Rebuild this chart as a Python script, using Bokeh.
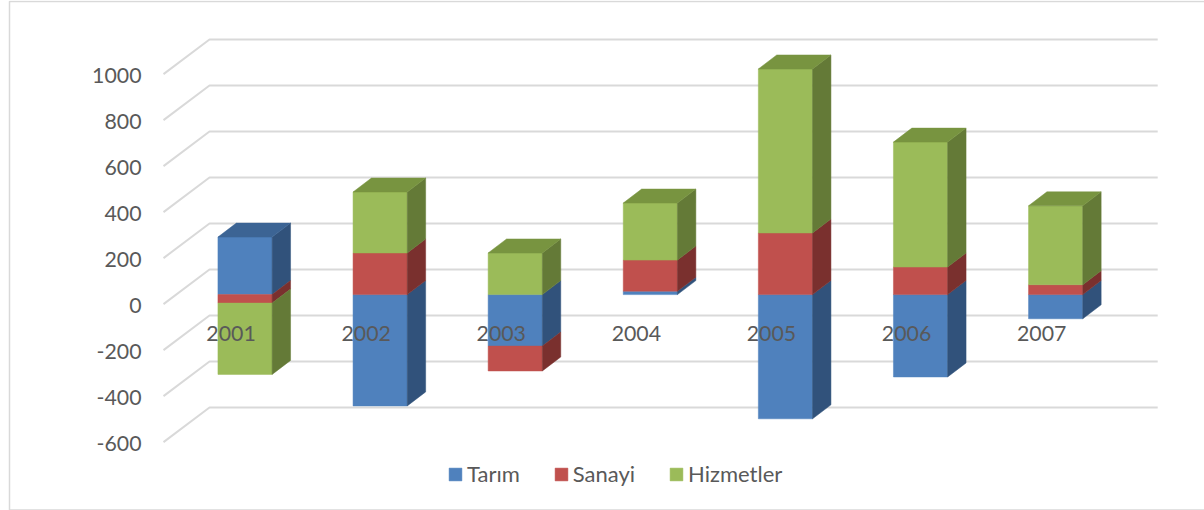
from bokeh.plotting import figure
from bokeh.embed import file_html
from bokeh.resources import INLINE
from bokeh.models import (LinearAxis, FixedTicker, Legend, LegendItem, BoxAnnotation,
                          ColumnDataSource, Range1d)

years = ["2001", "2002", "2003", "2004", "2005", "2006", "2007"]
tarim = [250, -484, -224, 15, -540, -358, -105]
sanayi = [-37, 181, -108, 135, 268, 120, 43]
hizmetler = [-310, 265, 181, 248, 713, 543, 343]
y_ticks = [-600, -400, -200, 0, 200, 400, 600, 800, 1000]

series = [
    ("Tarım", tarim, "#4f81bd", "#31527b", "#3c6494"),
    ("Sanayi", sanayi, "#c0504d", "#7a302e", "#94403d"),
    ("Hizmetler", hizmetler, "#9bbb59", "#647a37", "#789440"),
]

W, H = 1204, 510
PX_CAT = 135.1            # pixels per category
PX_VAL = 0.23             # pixels per value unit
X0_PX = 163               # front plane left edge
Y0_PX = 303.6             # front plane zero line


def dx(px):
    return px / PX_CAT


def dy(px):
    return px / PX_VAL


p = figure(width=W, height=H, output_backend="svg", toolbar_location=None,
           x_axis_location=None, y_axis_location=None, min_border=0,
           x_range=Range1d(-X0_PX / PX_CAT, (W - X0_PX) / PX_CAT),
           y_range=Range1d((Y0_PX - H) / PX_VAL, Y0_PX / PX_VAL),
           background_fill_color="white", border_fill_color="white",
           outline_line_color=None)
p.grid.visible = False
# value labels sit slightly below their grid lines in the reference
p.extra_y_ranges = {"labels": Range1d((Y0_PX + 1.8 - H) / PX_VAL, (Y0_PX + 1.8) / PX_VAL)}

# chart frame
p.add_layout(BoxAnnotation(left=9, right=1300, top=0.5, bottom=509, top_units="screen",
                           bottom_units="screen", left_units="screen", right_units="screen",
                           fill_alpha=0, line_color="#d9d9d9", line_alpha=1, line_width=1.5,
                           level="underlay"))

# wall grid lines
n = len(years)
wall_dx, wall_dy = dx(46), dy(34.6)
gx, gy = [], []
for t in y_ticks:
    gx.append([0, wall_dx, n + dx(2.5) + wall_dx])
    gy.append([t, t + wall_dy, t + wall_dy])
p.multi_line(gx, gy, line_color="#d9d9d9", line_width=2)

# bars
bar_w = dx(54.2)
off_x, off_y = dx(14), dy(9.5)
side_x, side_y = dx(18.4), dy(14)

pos = [0.0] * n
neg = [0.0] * n
legend_items = []
for name, values, col, side_col, top_col in series:
    left, right, bottom, top, sx, sy = [], [], [], [], [], []
    for i, v in enumerate(values):
        if v >= 0:
            a, b = pos[i], pos[i] + v
            pos[i] = b
        else:
            a, b = neg[i] + v, neg[i]
            neg[i] = a
        l = i + 0.5 - bar_w / 2 + off_x
        r = l + bar_w
        ya, yb = a + off_y, b + off_y
        left.append(l); right.append(r); bottom.append(ya); top.append(yb)
        sx.append([r, r + side_x, r + side_x, r])
        sy.append([ya, ya + side_y, yb + side_y, yb])
    src = ColumnDataSource(dict(left=left, right=right, bottom=bottom, top=top))
    r_front = p.quad(left="left", right="right", bottom="bottom", top="top", source=src,
                     fill_color=col, line_color=col, line_width=0.5)
    p.patches(sx, sy, fill_color=side_col, line_color=side_col, line_width=0.5)
    legend_items.append(LegendItem(label=name, renderers=[r_front]))

# top faces take the colour of the highest series in the positive stack
tops = {s[0]: ([], []) for s in series}
run = [0.0] * n
owner = [None] * n
for name, values, *_ in series:
    for i, v in enumerate(values):
        if v > 0:
            run[i] += v
            owner[i] = name
for i in range(n):
    l = i + 0.5 - bar_w / 2 + off_x
    r = l + bar_w
    y = run[i] + off_y
    tops[owner[i]][0].append([l, l + side_x, r + side_x, r])
    tops[owner[i]][1].append([y, y + side_y, y + side_y, y])
for name, values, col, side_col, top_col in series:
    if tops[name][0]:
        p.patches(tops[name][0], tops[name][1], fill_color=top_col, line_color=top_col, line_width=0.5)

FONT = "Lato"
TXT = "#595959"
yaxis = LinearAxis(ticker=FixedTicker(ticks=y_ticks), fixed_location=dx(141 - X0_PX),
                   y_range_name="labels",
                   axis_line_color=None, major_tick_line_color=None, minor_tick_line_color=None,
                   major_tick_in=0, major_tick_out=0, major_label_standoff=0,
                   major_label_text_font=FONT, major_label_text_font_size="21.3px",
                   major_label_text_color=TXT,
                   major_label_overrides={t: str(t) for t in y_ticks})
p.add_layout(yaxis, "left")

xaxis = LinearAxis(ticker=FixedTicker(ticks=[i + 0.5 for i in range(n)]),
                   fixed_location=dy(Y0_PX - 325),
                   axis_line_color=None, major_tick_line_color=None, minor_tick_line_color=None,
                   major_tick_in=0, major_tick_out=0, major_label_standoff=0,
                   major_label_text_font=FONT, major_label_text_font_size="21.3px",
                   major_label_text_color=TXT,
                   major_label_overrides={i + 0.5: y for i, y in enumerate(years)})
p.add_layout(xaxis, "below")

legend = Legend(items=legend_items, orientation="horizontal", location=(447, 23),
                background_fill_alpha=0, border_line_color=None, padding=0, margin=0,
                spacing=33, label_standoff=4, glyph_width=16, glyph_height=16,
                label_text_font=FONT, label_text_font_size="22px", label_text_color=TXT,
                label_height=18)
p.add_layout(legend, "center")

open("out.html", "w").write(file_html(p, INLINE))
